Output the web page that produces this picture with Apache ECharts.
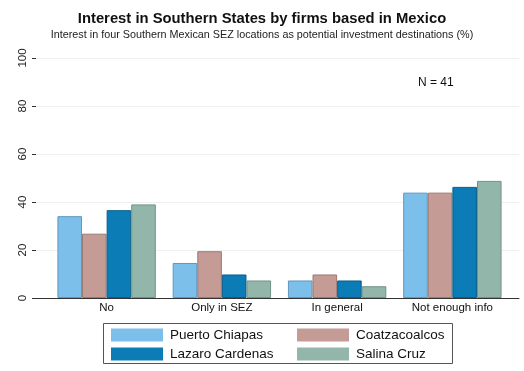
<!DOCTYPE html>
<html>
<head>
<meta charset="utf-8">
<script src="https://cdn.jsdelivr.net/npm/echarts@6/dist/echarts.min.js"></script>
<style>html,body{margin:0;padding:0;background:#fff;}#c{width:524px;height:371px;}</style>
</head>
<body>
<div id="c"></div>
<script>
var categories = ['No', 'Only in SEZ', 'In general', 'Not enough info'];
var puertoChiapas = [34.1, 14.6, 7.3, 43.9];
var coatzacoalcos = [26.8, 19.5, 9.8, 43.9];
var lazaroCardenas = [36.6, 9.8, 7.3, 46.3];
var salinaCruz = [39.0, 7.3, 4.9, 48.8];
var yTicks = [0, 20, 40, 60, 80, 100];

var FONT = '"Liberation Sans", Arial, Helvetica, sans-serif';
var chart = echarts.init(document.getElementById('c'), null, {renderer: 'canvas'});

function bar(name, data, color, border) {
  return {
    name: name, type: 'bar', data: data, xAxisIndex: 1, yAxisIndex: 1,
    barWidth: 24.6, barGap: '0%',
    itemStyle: {color: color, borderColor: border, borderWidth: 1},
    emphasis: {disabled: true}
  };
}
function leg(name, left, top) {
  return {data: [name], left: left, top: top, itemWidth: 52, itemHeight: 13, icon: 'rect',
    padding: 0, itemGap: 0, selectedMode: false,
    itemStyle: {borderWidth: 0},
    textStyle: {fontFamily: FONT, fontSize: 13.5, color: '#111', padding: [0, 0, 0, 2]}};
}

chart.setOption({
  animation: false,
  backgroundColor: '#ffffff',
  textStyle: {fontFamily: FONT},
  title: [
    {text: 'Interest in Southern States by firms based in Mexico', left: 'center', top: 6,
     textStyle: {fontFamily: FONT, fontSize: 14.8, fontWeight: 'bold', color: '#111'}},
    {text: 'Interest in four Southern Mexican SEZ locations as potential investment destinations (%)', left: 'center', top: 25,
     textStyle: {fontFamily: FONT, fontSize: 10.8, fontWeight: 'normal', color: '#222'}}
  ],
  grid: [
    {left: 36, right: 5, top: 58, bottom: 73},
    {left: 49, right: 14, top: 58, bottom: 73}
  ],
  xAxis: [
    {type: 'value', gridIndex: 0, min: 0, max: 1, show: true,
     axisLine: {show: true, lineStyle: {color: '#333', width: 1}},
     axisTick: {show: false}, axisLabel: {show: false}, splitLine: {show: false}},
    {type: 'category', gridIndex: 1, data: categories,
     axisLine: {show: false}, axisTick: {show: false},
     axisLabel: {fontFamily: FONT, fontSize: 11.5, color: '#111', margin: 4}}
  ],
  yAxis: [
    {type: 'value', gridIndex: 0, min: 0, max: 100, interval: 20,
     axisLine: {show: false},
     axisTick: {show: true, length: 4, inside: false, lineStyle: {color: '#333'}},
     axisLabel: {rotate: 90, fontFamily: FONT, fontSize: 11.5, color: '#222', margin: 7,
       formatter: function (v) { return yTicks.indexOf(v) >= 0 ? String(v) : ''; }},
     splitLine: {show: true, lineStyle: {color: '#efefef', width: 1}}},
    {type: 'value', gridIndex: 1, min: 0, max: 100, interval: 20, show: false,
     splitLine: {show: false}}
  ],
  legend: [
    leg('Puerto Chiapas', 111, 328),
    leg('Lazaro Cardenas', 111, 347),
    leg('Coatzacoalcos', 297, 328),
    leg('Salina Cruz', 297, 347)
  ],
  graphic: [
    {type: 'rect', shape: {x: 103.5, y: 323.5, width: 349, height: 40},
     style: {fill: 'none', stroke: '#555', lineWidth: 1}, silent: true, z: 0},
    {type: 'text', left: 418, top: 77,
     style: {text: 'N = 41', fontFamily: FONT, fontSize: 12, fill: '#111'}}
  ],
  series: [
    bar('Puerto Chiapas', puertoChiapas, '#7cbfea', '#5f97bd'),
    bar('Coatzacoalcos', coatzacoalcos, '#c49b95', '#9a7a74'),
    bar('Lazaro Cardenas', lazaroCardenas, '#0b7cb6', '#0a5f8a'),
    bar('Salina Cruz', salinaCruz, '#93b6aa', '#71918a')
  ]
});
</script>
</body>
</html>
